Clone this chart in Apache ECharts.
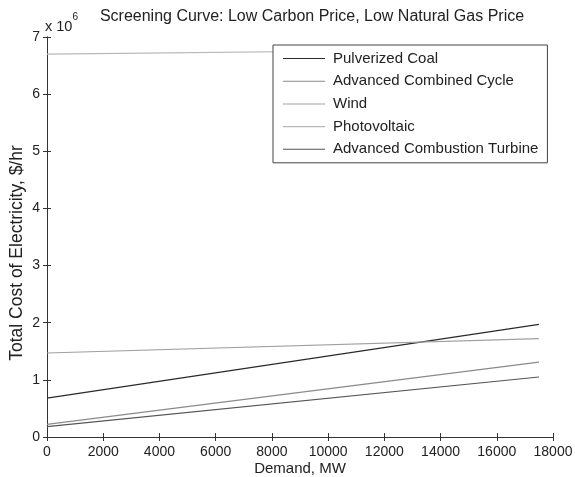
<!DOCTYPE html>
<html>
<head>
<meta charset="utf-8">
<script src="https://cdn.jsdelivr.net/npm/echarts@6/dist/echarts.min.js"></script>
<style>
  html,body{margin:0;padding:0;background:#fff;}
  #chart{width:575px;height:477px;}
</style>
</head>
<body>
<div id="chart"></div>
<script>
// values, cost in units of 10^6 $/hr
var demand=[0,17500];
var coal=[0.68,1.97];
var combinedCycle=[0.22,1.31];
var wind=[1.47,1.72];
var photovoltaic=[6.70,6.79];
var combustionTurbine=[0.18,1.05];
var names=["Pulverized Coal","Advanced Combined Cycle","Wind","Photovoltaic","Advanced Combustion Turbine"];
var colors=["#2a2a2a","#8a8a8a","#a0a0a0","#b8b8b8","#555555"];

var chart=echarts.init(document.getElementById("chart"));

function pairs(ys){
  return demand.map((x,i)=>[x,ys[i]]);
}
var allSeries=[coal,combinedCycle,wind,photovoltaic,combustionTurbine];

var font="Liberation Sans, Arial, sans-serif";
var axisLine={show:true,lineStyle:{color:"#333",width:1}};
var tick={show:true,inside:true,length:4,lineStyle:{color:"#333"}};

var chartoptions={
  animation:false,
  grid:{left:47,right:22,top:37,bottom:40,outerBoundsMode:"none",containLabel:false},
  title:{
    text:"Screening Curve: Low Carbon Price, Low Natural Gas Price",
    left:307,top:4,textAlign:"center",
    textStyle:{fontFamily:font,fontSize:16,fontWeight:"normal",color:"#222"}
  },
  graphic:[{
    type:"text",left:45,top:12,
    style:{
      text:"{a|x 10}{b|6}",
      rich:{
        a:{fontFamily:font,fontSize:14.5,fill:"#222",padding:[7,0,0,0]},
        b:{fontFamily:font,fontSize:10,fill:"#222",verticalAlign:"top"}
      }
    }
  }],
  legend:{
    orient:"vertical",left:273,top:45,
    data:names,
    icon:"path://M0,0 L40,0 L40,1 L0,1 Z",
    itemWidth:42,itemHeight:14,itemGap:7.7,
    padding:[6,9,6,10],
    backgroundColor:"#fff",borderColor:"#444",borderWidth:1,
    textStyle:{fontFamily:font,fontSize:15,color:"#222",padding:[0,0,0,3]}
  },
  xAxis:[
    {
      type:"value",min:0,max:18000,interval:2000,
      name:"Demand, MW",nameLocation:"middle",nameGap:24,nameMoveOverlap:false,
      nameTextStyle:{fontFamily:font,fontSize:15,color:"#222"},
      axisLine:axisLine,axisTick:tick,splitLine:{show:false},
      axisLabel:{fontFamily:font,fontSize:14,color:"#222",margin:8,formatter:(v)=>String(v)}
    },
    {
      type:"value",position:"top",min:0,max:18000,interval:2000,
      axisLine:axisLine,axisTick:tick,splitLine:{show:false},axisLabel:{show:false}
    }
  ],
  yAxis:[
    {
      type:"value",min:0,max:7,interval:1,
      name:"Total Cost of Electricity, $/hr",nameLocation:"middle",nameGap:21,nameMoveOverlap:false,
      nameTextStyle:{fontFamily:font,fontSize:17.5,color:"#222",padding:[0,32,0,0]},
      axisLine:axisLine,axisTick:tick,splitLine:{show:false},
      axisLabel:{fontFamily:font,fontSize:14,color:"#222",margin:7}
    },
    {
      type:"value",position:"right",min:0,max:7,interval:1,
      axisLine:axisLine,axisTick:tick,splitLine:{show:false},axisLabel:{show:false}
    }
  ],
  series:names.map((n,i)=>({
    name:n,type:"line",data:pairs(allSeries[i]),
    symbol:"none",smooth:false,
    itemStyle:{color:colors[i]},
    lineStyle:{color:colors[i],width:1.2}
  }))
};
chart.setOption(chartoptions);
</script>
</body>
</html>
